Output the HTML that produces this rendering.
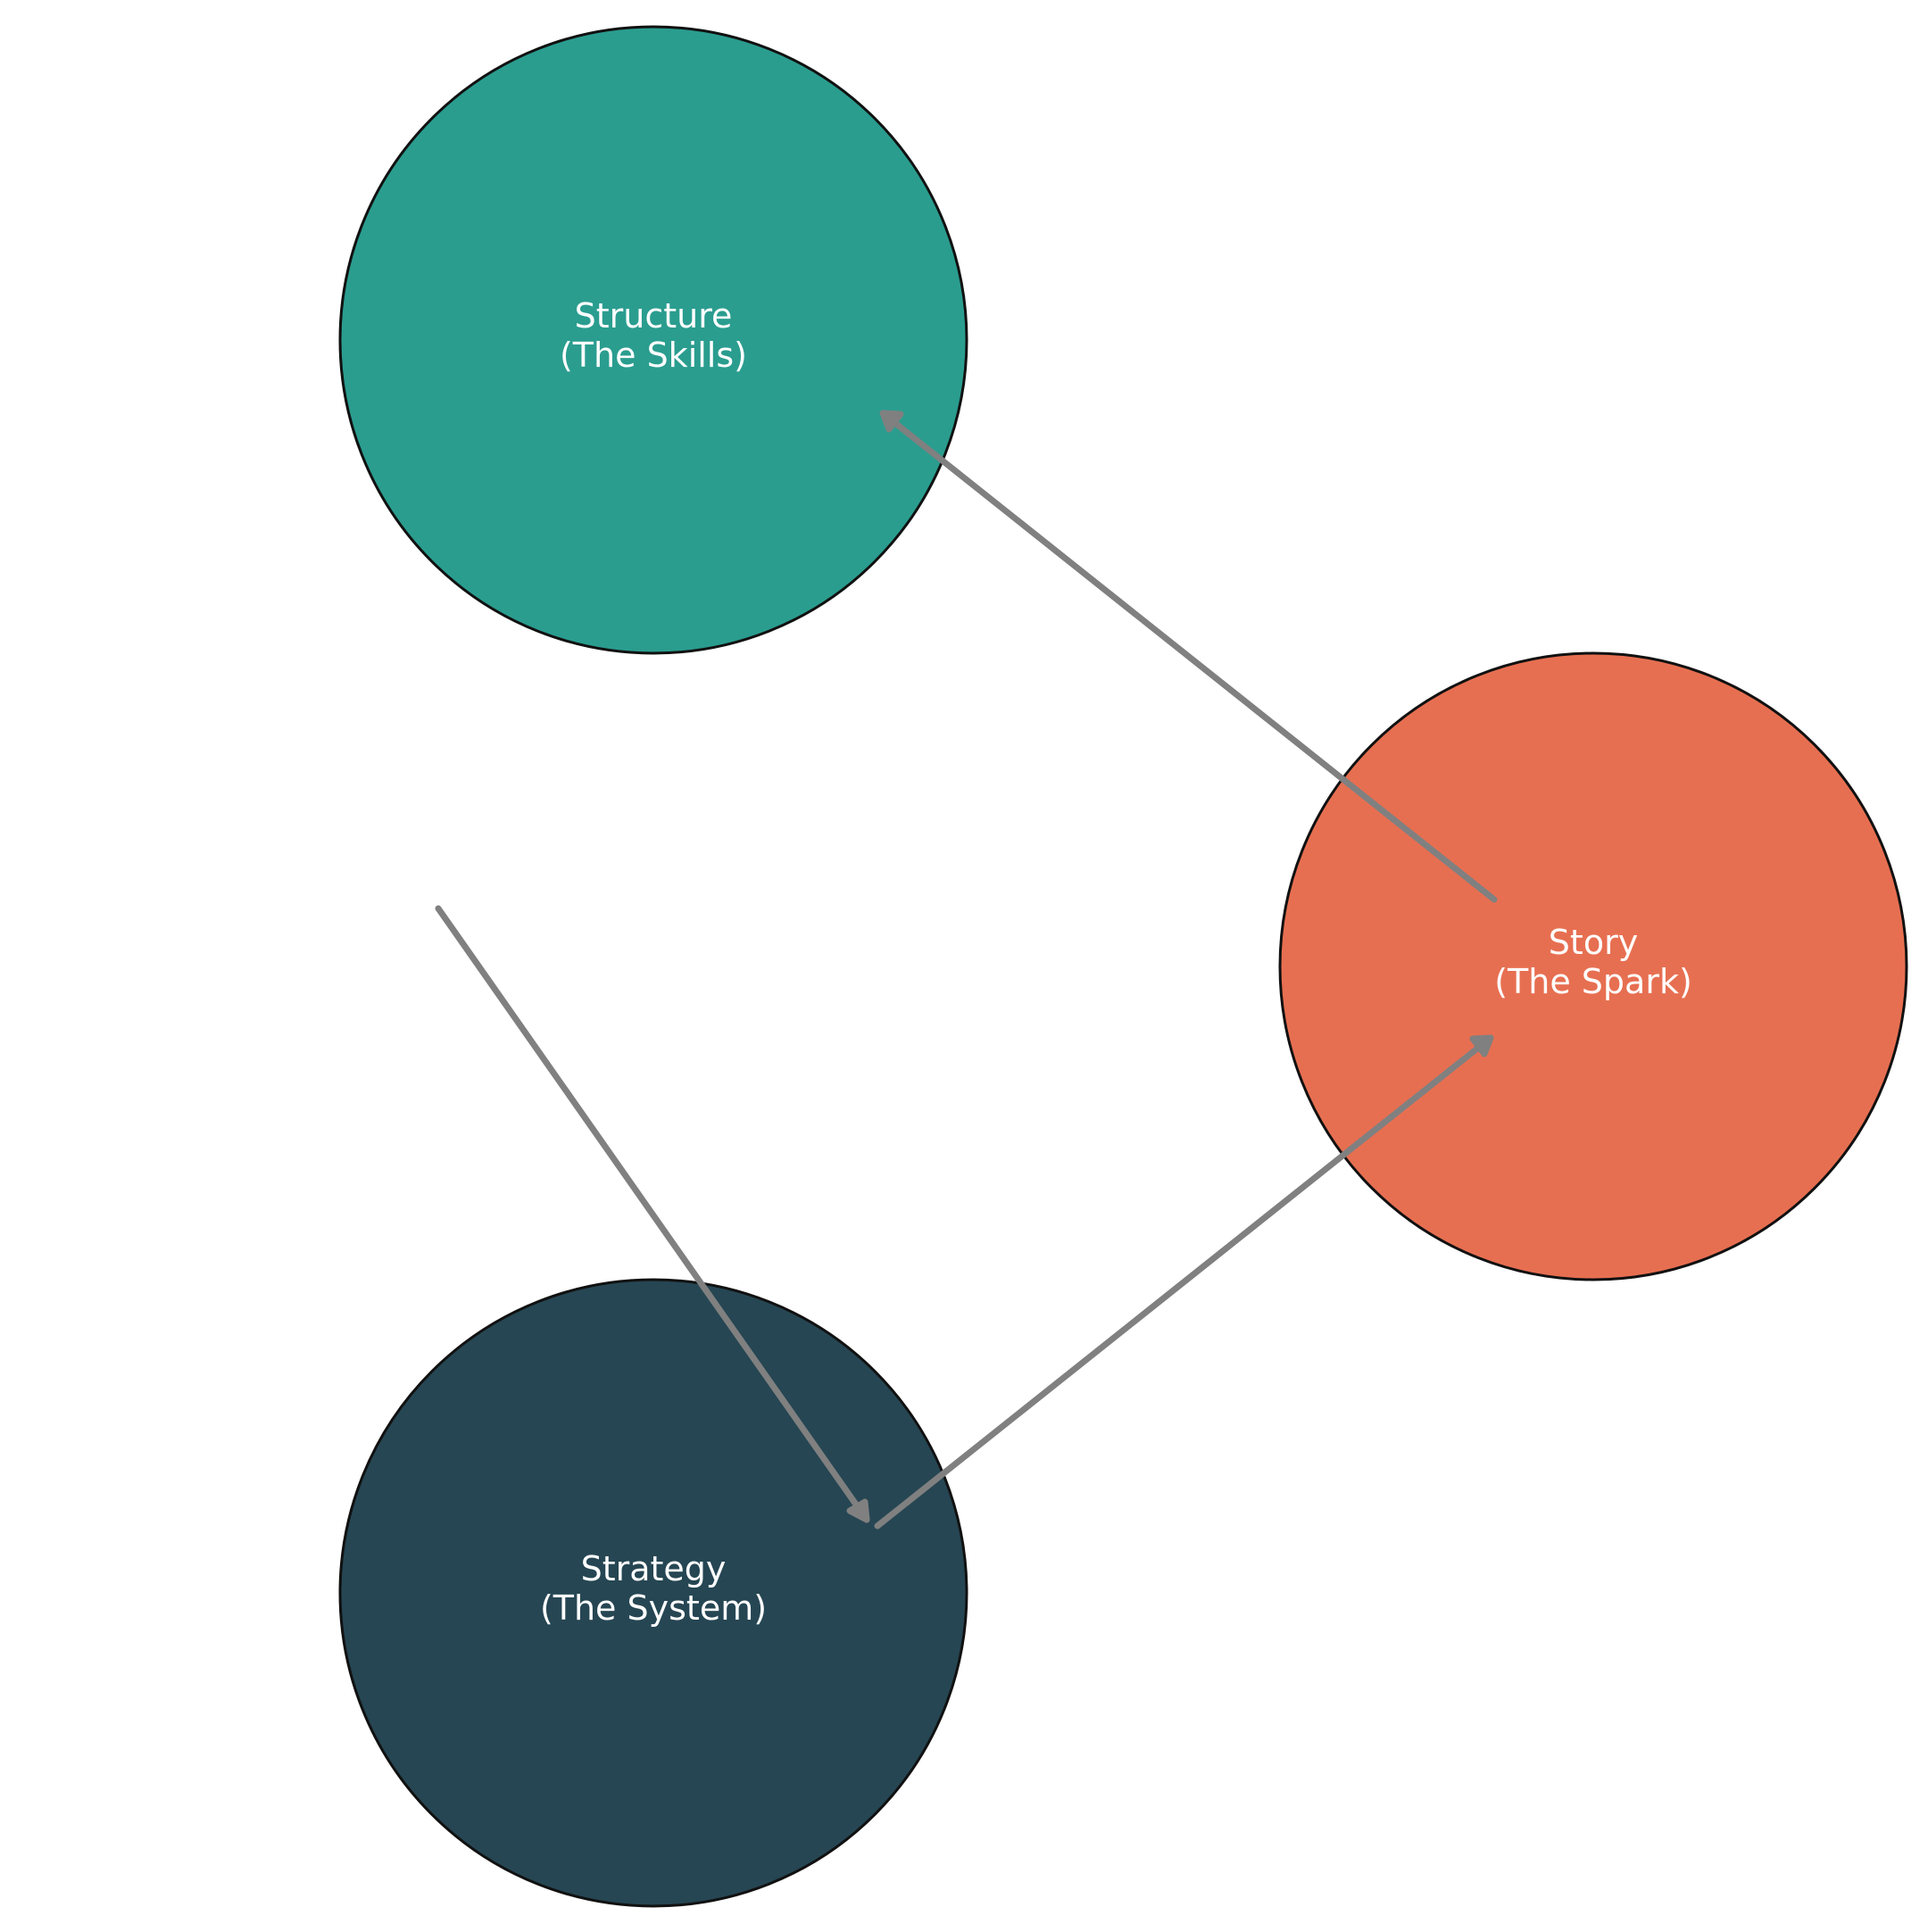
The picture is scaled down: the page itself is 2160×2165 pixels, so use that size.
<!DOCTYPE html>
<html><head><style>html,body{margin:0;padding:0;background:#fff}</style></head>
<body>
<svg width="2160" height="2160" viewBox="0 0 2160 2160" xmlns="http://www.w3.org/2000/svg">
<g transform="translate(3,3)">
<g stroke="#111" stroke-width="3">
<circle cx="729" cy="378" r="351" fill="#2a9d8f"/>
<circle cx="1782" cy="1080" r="351" fill="#e76f51"/>
<circle cx="729" cy="1782" r="351" fill="#264653"/>
</g>
<g font-family="DejaVu Sans, Liberation Sans, sans-serif" font-size="38" fill="#fff" text-anchor="middle">
<text x="729" y="364">Structure</text><text x="729" y="408">(The Skills)</text>
<text x="1782" y="1066">Story</text><text x="1782" y="1110">(The Spark)</text>
<text x="729" y="1768">Strategy</text><text x="729" y="1812">(The System)</text>
</g>
<g stroke="#808080" stroke-width="7" stroke-linecap="round" fill="#808080" stroke-linejoin="round">
<line x1="1671" y1="1005" x2="986" y2="460"/>
<path d="M1006 461 L986 460 L993 478 Z"/>
<line x1="488" y1="1015" x2="968" y2="1700"/>
<path d="M949 1690 L968 1700 L966 1680 Z"/>
<line x1="980" y1="1707" x2="1667" y2="1160"/>
<path d="M1647 1161 L1667 1160 L1660 1178 Z"/>
</g>
</g>
</svg>
</body></html>
